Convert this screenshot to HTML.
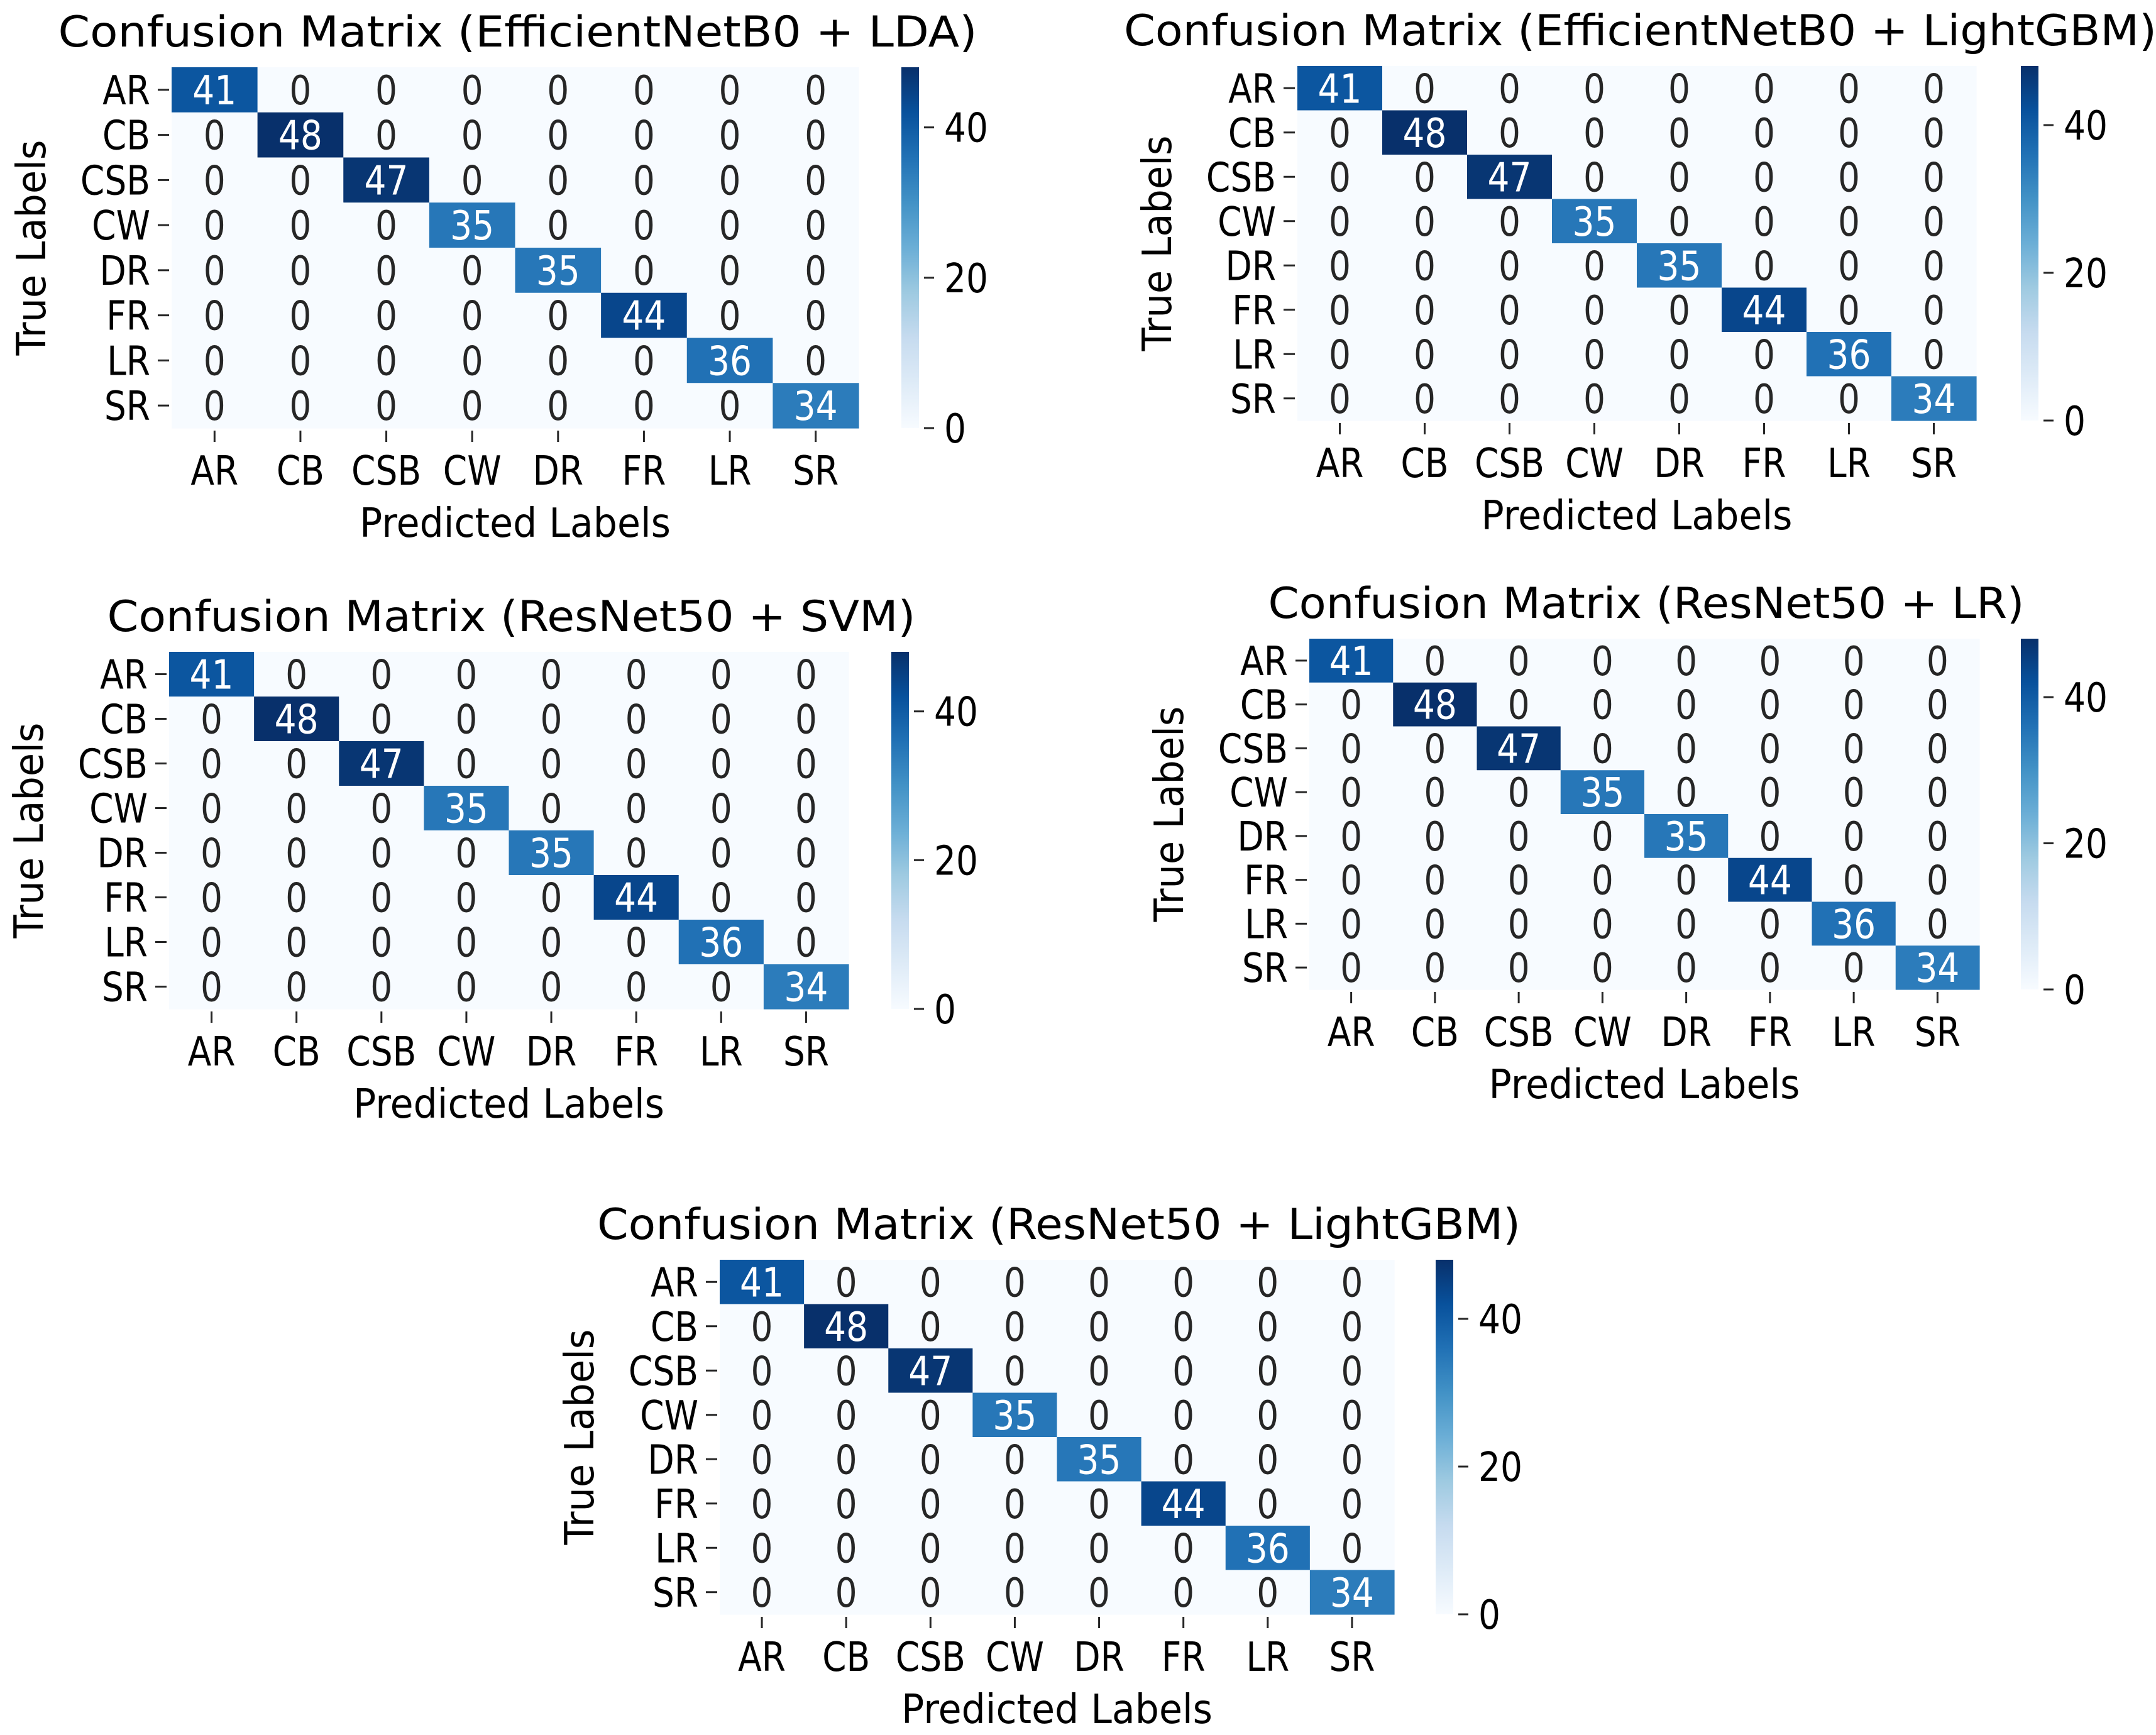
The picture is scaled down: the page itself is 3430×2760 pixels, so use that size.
<!DOCTYPE html>
<html><head><meta charset="utf-8"><style>
html,body{margin:0;padding:0;background:#fff;}
svg{display:block;font-family:"DejaVu Sans","Liberation Sans",sans-serif;}
</style></head>
<body>
<svg id="fig" width="3430" height="2760" viewBox="0 0 3430 2760" xmlns="http://www.w3.org/2000/svg">
<defs>
<linearGradient id="blues" x1="0" y1="1" x2="0" y2="0">
<stop offset="0" stop-color="#f7fbff"/><stop offset="0.125" stop-color="#deebf7"/><stop offset="0.25" stop-color="#c6dbef"/><stop offset="0.375" stop-color="#9ecae1"/><stop offset="0.5" stop-color="#6baed6"/><stop offset="0.625" stop-color="#4292c6"/><stop offset="0.75" stop-color="#2171b5"/><stop offset="0.875" stop-color="#08519c"/><stop offset="1" stop-color="#08306b"/>
</linearGradient>
</defs>
</svg>
<script>
const categories = ["AR","CB","CSB","CW","DR","FR","LR","SR"];
const colorbarTicks = [0, 20, 40];
const vmax = 48;
const titles = [
 "Confusion Matrix (EfficientNetB0 + LDA)",
 "Confusion Matrix (EfficientNetB0 + LightGBM)",
 "Confusion Matrix (ResNet50 + SVM)",
 "Confusion Matrix (ResNet50 + LR)",
 "Confusion Matrix (ResNet50 + LightGBM)"
];
const matrixEffLDA = [
 [41,0,0,0,0,0,0,0],[0,48,0,0,0,0,0,0],[0,0,47,0,0,0,0,0],[0,0,0,35,0,0,0,0],
 [0,0,0,0,35,0,0,0],[0,0,0,0,0,44,0,0],[0,0,0,0,0,0,36,0],[0,0,0,0,0,0,0,34]];
const matrixEffLGBM = [
 [41,0,0,0,0,0,0,0],[0,48,0,0,0,0,0,0],[0,0,47,0,0,0,0,0],[0,0,0,35,0,0,0,0],
 [0,0,0,0,35,0,0,0],[0,0,0,0,0,44,0,0],[0,0,0,0,0,0,36,0],[0,0,0,0,0,0,0,34]];
const matrixResSVM = [
 [41,0,0,0,0,0,0,0],[0,48,0,0,0,0,0,0],[0,0,47,0,0,0,0,0],[0,0,0,35,0,0,0,0],
 [0,0,0,0,35,0,0,0],[0,0,0,0,0,44,0,0],[0,0,0,0,0,0,36,0],[0,0,0,0,0,0,0,34]];
const matrixResLR = [
 [41,0,0,0,0,0,0,0],[0,48,0,0,0,0,0,0],[0,0,47,0,0,0,0,0],[0,0,0,35,0,0,0,0],
 [0,0,0,0,35,0,0,0],[0,0,0,0,0,44,0,0],[0,0,0,0,0,0,36,0],[0,0,0,0,0,0,0,34]];
const matrixResLGBM = [
 [41,0,0,0,0,0,0,0],[0,48,0,0,0,0,0,0],[0,0,47,0,0,0,0,0],[0,0,0,35,0,0,0,0],
 [0,0,0,0,35,0,0,0],[0,0,0,0,0,44,0,0],[0,0,0,0,0,0,36,0],[0,0,0,0,0,0,0,34]];
const matrices = [matrixEffLDA, matrixEffLGBM, matrixResSVM, matrixResLR, matrixResLGBM];

// layout (pixel geometry, not data)
const layouts = [
 {L:273,R:1366,T:107,B:681,cbL:1434,tw:1462},
 {L:2064,R:3144,T:105,B:669,cbL:3215,tw:1643},
 {L:269,R:1350,T:1037,B:1605,cbL:1418,tw:1286},
 {L:2083,R:3149,T:1016,B:1574,cbL:3215,tw:1203},
 {L:1145,R:2218,T:2004,B:2568,cbL:2284,tw:1469}
];
const slugs = ["effnet-lda","effnet-lightgbm","resnet-svm","resnet-lr","resnet-lightgbm"];

const stops = [[247,251,255],[222,235,247],[198,219,239],[158,202,225],[107,174,214],[66,146,198],[33,113,181],[8,81,156],[8,48,107]];
function blues(v){
  let t = Math.max(0, Math.min(1, v / vmax)) * 8;
  let i = Math.min(7, Math.floor(t)), f = t - i;
  const a = stops[i], b = stops[i+1];
  return [0,1,2].map(k => Math.round(a[k] + (b[k]-a[k]) * f));
}
const NS = "http://www.w3.org/2000/svg";
const svg = document.getElementById("fig");
function mk(tag, attrs, parent){
  const e = document.createElementNS(NS, tag);
  for (const k in attrs) e.setAttribute(k, attrs[k]);
  (parent || svg).appendChild(e);
  return e;
}
const SX = 0.86, FS = 64;
function stxt(x, y, str, anchor, fill, parent, size){
  const e = mk("text", {x:0, y:0, "font-size":size || FS, "text-anchor":anchor, fill:fill, transform:`translate(${x} ${y}) scale(${SX} 1)`}, parent);
  e.textContent = str;
  return e;
}

layouts.forEach((g, ci) => {
  const m = matrices[ci];
  const n = categories.length;
  const grp = mk("g", {});
  
  
  const cw = (g.R - g.L) / n, ch = (g.B - g.T) / n;
  const xOf = j => g.L + j * cw;
  const yOf = i => g.T + i * ch;
  const t = mk("text", {x:(g.L+g.R)/2 + (g.cbL - g.R)/2 - 30, y:g.T-33, "font-size":68, "text-anchor":"middle", fill:"#000", textLength:g.tw, lengthAdjust:"spacingAndGlyphs"}, grp);
  t.textContent = titles[ci];
  
  
  for (let i = 0; i < n; i++) for (let j = 0; j < n; j++) {
    const v = m[i][j];
    const c = blues(v);
    const r = mk("rect", {x:xOf(j), y:yOf(i), width:cw+0.6, height:ch+0.6, fill:`rgb(${c[0]},${c[1]},${c[2]})`}, grp);
    
    
    const lum = (0.2126*c[0] + 0.7152*c[1] + 0.0722*c[2]) / 255;
    const tx = stxt(xOf(j)+cw/2, yOf(i)+ch/2+23, String(v), "middle", lum > 0.55 ? "#262626" : "#ffffff", grp);
    
    
  }
  categories.forEach((c, i) => {
    const yc = yOf(i) + ch/2;
    const tk = mk("line", {x1:g.L-22, x2:g.L-4, y1:yc, y2:yc, stroke:"#262626", "stroke-width":3}, grp);
    
    
    const lb = stxt(g.L-34, yc+23, c, "end", "#000", grp);
    
    
  });
  categories.forEach((c, j) => {
    const xc = xOf(j) + cw/2;
    const tk = mk("line", {x1:xc, x2:xc, y1:g.B+4, y2:g.B+22, stroke:"#262626", "stroke-width":3}, grp);
    
    
    const lb = stxt(xc, g.B+90, c, "middle", "#000", grp);
    
    
  });
  const xl = mk("text", {x:(g.L+g.R)/2, y:g.B+173, "font-size":64, "text-anchor":"middle", fill:"#000", textLength:495, lengthAdjust:"spacingAndGlyphs"}, grp);
  xl.textContent = "Predicted Labels";
  
  
  const yx = g.L - 224, yy = (g.T+g.B)/2;
  const yl = mk("text", {x:yx, y:yy, "font-size":64, "text-anchor":"middle", fill:"#000", transform:`rotate(-90 ${yx} ${yy}) translate(0 23)`, textLength:343, lengthAdjust:"spacingAndGlyphs"}, grp);
  yl.textContent = "True Labels";
  
  
  const cb = mk("rect", {x:g.cbL, y:g.T, width:28, height:g.B-g.T, fill:"url(#blues)"}, grp);
  
  
  colorbarTicks.forEach(v => {
    const y = g.B - (g.B - g.T) * v / vmax;
    const tk = mk("line", {x1:g.cbL+36, x2:g.cbL+52, y1:y, y2:y, stroke:"#262626", "stroke-width":3}, grp);
    
    
    const lb = stxt(g.cbL+68, y+23, String(v), "start", "#000", grp);
    
    
  });
});
</script>
</body></html>
